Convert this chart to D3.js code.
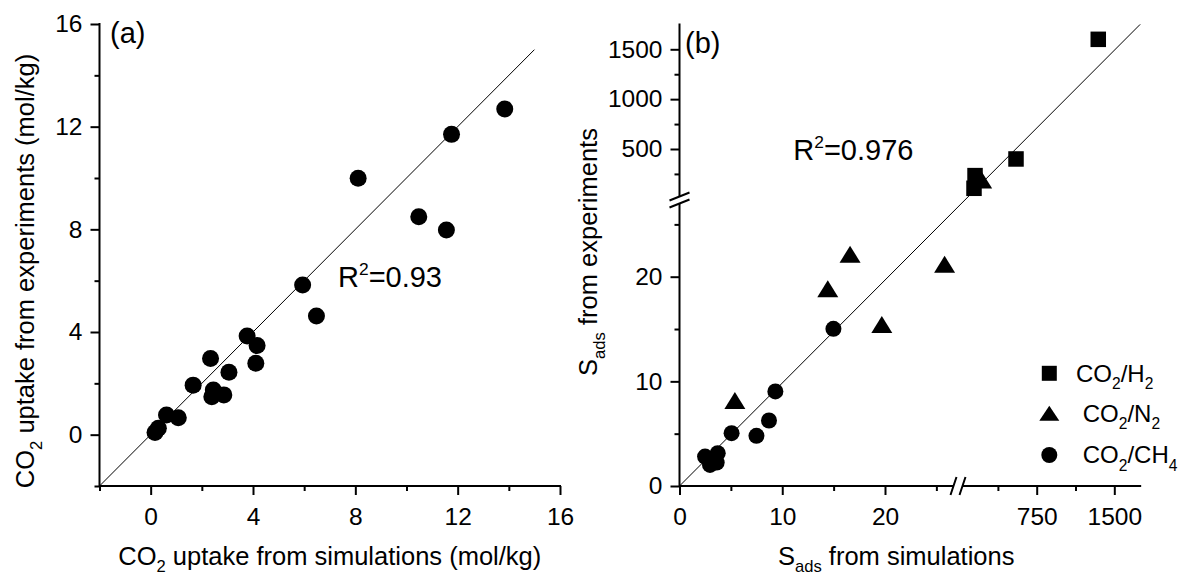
<!DOCTYPE html>
<html><head><meta charset="utf-8">
<script src="https://cdn.jsdelivr.net/npm/d3@7"></script>
<style>
body{margin:0;background:#fff;}
svg{display:block;font-family:"Liberation Sans",Arial,sans-serif;}
</style></head><body>
<svg id="chart" width="1183" height="577"></svg>
<script>
// ---------- Panel (a) data ----------
const aSim = [0.17,0.30,0.62,1.08,1.66,2.34,2.45,2.39,2.86,3.06,3.77,4.16,4.11,5.94,6.48,8.11,10.48,11.56,11.76,13.84];
const aExp = [0.08,0.25,0.77,0.66,1.93,2.97,1.74,1.48,1.55,2.43,3.84,3.47,2.78,5.83,4.62,9.99,8.49,7.97,11.70,12.69];
const aTicks = [0,4,8,12,16];
const aMinor = [-2,2,6,10,14];
const aDomain = [-2,16];
const aParity = [-2,15];
const aR2 = "0.93";

// ---------- Panel (b) data ----------
const seriesNames = ["CO2/H2","CO2/N2","CO2/CH4"];
const h2Sim = [154,144,550,1345];
const h2Exp = [233,106,400,1600];
const n2Sim = [5.39,14.43,16.6,19.69,25.8,218];
const n2Exp = [8.18,18.86,22.15,15.44,21.2,189];
const ch4Sim = [2.49,2.97,3.62,3.72,5.07,7.49,8.71,9.33,14.98];
const ch4Exp = [2.81,2.01,2.24,3.13,5.05,4.79,6.26,9.04,15.02];
const bLowTicks = [0,10,20];
const bLowMinor = [5,15,25];
const bHighXTicks = [750,1500];
const bHighXMinor = [375,1125];
const bHighYTicks = [500,1000,1500];
const bHighYMinor = [250,750,1250];
const bParity = [0,1750];
const bR2 = "0.976";

const svg = d3.select("#chart");
svg.append("rect").attr("width",1183).attr("height",577).attr("fill","#fff");

// rich text helper: parts = [[text, 'n'|'sub'|'sup'], ...]
function rich(sel, parts, fs, subShift){
  let shift = 0;
  const ss = subShift === undefined ? 0.32 : subShift;
  parts.forEach(([t,k])=>{
    const ts = sel.append("tspan").text(t);
    let target = 0, size = fs;
    if(k==="sub"){ target = ss*fs; size = 0.65*fs; }
    if(k==="sup"){ target = -0.42*fs; size = 0.6*fs; }
    ts.attr("font-size", size).attr("dy", target - shift);
    shift = target;
  });
  return sel;
}

function styleAxis(g, fs){
  g.select(".domain").remove();
  g.selectAll(".tick line").attr("stroke","#000").attr("stroke-width",2);
  g.selectAll(".tick text").attr("font-size",fs).attr("fill","#000")
    .attr("font-family","'Liberation Sans',Arial,sans-serif");
}

const TS = 24.5; // tick font
const TT = 25.5; // title font

// ================= Panel (a) =================
const xA = d3.scaleLinear().domain(aDomain).range([99.5,560]);
const yA = d3.scaleLinear().domain(aDomain).range([486,24]);

svg.append("line")
  .attr("x1",xA(aParity[0])).attr("y1",yA(aParity[0]))
  .attr("x2",xA(aParity[1])).attr("y2",yA(aParity[1]))
  .attr("stroke","#000").attr("stroke-width",1);

const gAx = svg.append("g").attr("transform",`translate(0,${yA(aDomain[0])})`);
gAx.call(d3.axisBottom(xA).tickValues(aTicks).tickSize(9).tickPadding(13).tickFormat(d3.format("d")));
styleAxis(gAx,TS);
const gAxm = svg.append("g").attr("transform",`translate(0,${yA(aDomain[0])})`);
gAxm.call(d3.axisBottom(xA).tickValues(aMinor).tickSize(5).tickFormat(""));
styleAxis(gAxm,TS);
const gAy = svg.append("g").attr("transform",`translate(${xA(aDomain[0])},0)`);
gAy.call(d3.axisLeft(yA).tickValues(aTicks).tickSize(9).tickPadding(8).tickFormat(d3.format("d")));
styleAxis(gAy,TS);
const gAym = svg.append("g").attr("transform",`translate(${xA(aDomain[0])},0)`);
gAym.call(d3.axisLeft(yA).tickValues(aMinor).tickSize(5).tickFormat(""));
styleAxis(gAym,TS);
svg.append("path")
  .attr("d",`M${xA(aDomain[0])},${yA(aDomain[1])}V${yA(aDomain[0])}H${xA(aDomain[1])}`)
  .attr("fill","none").attr("stroke","#000").attr("stroke-width",2).attr("stroke-linecap","square");

svg.append("g").selectAll("circle").data(aSim.map((s,i)=>[s,aExp[i]])).join("circle")
  .attr("cx",d=>xA(d[0])).attr("cy",d=>yA(d[1])).attr("r",8.5).attr("fill","#000");

svg.append("text").attr("x",110).attr("y",43).attr("font-size",29).text("(a)");
rich(svg.append("text").attr("x",338).attr("y",287).attr("font-size",29),
  [["R","n"],["2","sup"],["="+aR2,"n"]],29);
rich(svg.append("text").attr("x",(xA(aDomain[0])+xA(aDomain[1]))/2).attr("y",565)
  .attr("text-anchor","middle").attr("font-size",TT),
  [["CO","n"],["2","sub"],[" uptake from simulations (mol/kg)","n"]],TT,0.26);
rich(svg.append("text").attr("transform","translate(34,271) rotate(-90)")
  .attr("text-anchor","middle").attr("font-size",TT),
  [["CO","n"],["2","sub"],[" uptake from experiments (mol/kg)","n"]],TT);

// ================= Panel (b) =================
const xBLow = d3.scaleLinear().domain([0,20]).range([679.5,885]);
const xBHigh = d3.scaleLinear().domain([750,1500]).range([1036.7,1114.3]);
const yBLow = d3.scaleLinear().domain([0,20]).range([486,276.7]);
const yBHigh = d3.scaleLinear().domain([500,1500]).range([149,49.3]);
const xB = v => v < 50 ? xBLow(v) : xBHigh(v);
const yB = v => v < 50 ? yBLow(v) : yBHigh(v);
const x0 = xBLow(0), y0 = yBLow(0);
const xEnd = xBHigh(bParity[1]), yEnd = yBHigh(bParity[1]);
const xBreak = 958, yBreak = 200;

svg.append("line")
  .attr("x1",xB(bParity[0])).attr("y1",yB(bParity[0]))
  .attr("x2",xB(bParity[1])).attr("y2",yB(bParity[1]))
  .attr("stroke","#000").attr("stroke-width",1);

function axisB(gen, scale, ticks, size, fmt, tr){
  const g = svg.append("g").attr("transform",tr);
  g.call(gen(scale).tickValues(ticks).tickSize(size).tickPadding(gen===d3.axisBottom?13:8).tickFormat(fmt));
  styleAxis(g,TS);
}
const fmt = d3.format("d");
axisB(d3.axisBottom, xBLow, bLowTicks, 9, fmt, `translate(0,${y0})`);
axisB(d3.axisBottom, xBLow, bLowMinor, 5, "", `translate(0,${y0})`);
axisB(d3.axisBottom, xBHigh, bHighXTicks, 9, fmt, `translate(0,${y0})`);
axisB(d3.axisBottom, xBHigh, bHighXMinor, 5, "", `translate(0,${y0})`);
axisB(d3.axisLeft, yBLow, bLowTicks, 9, fmt, `translate(${x0},0)`);
axisB(d3.axisLeft, yBLow, bLowMinor, 5, "", `translate(${x0},0)`);
axisB(d3.axisLeft, yBHigh, bHighYTicks, 9, fmt, `translate(${x0},0)`);
axisB(d3.axisLeft, yBHigh, bHighYMinor, 5, "", `translate(${x0},0)`);
svg.append("path")
  .attr("d",`M${x0},${yEnd}V${y0}H${xEnd}`)
  .attr("fill","none").attr("stroke","#000").attr("stroke-width",2).attr("stroke-linecap","square");

function breakMark(cx, cy, vertical){
  const g = svg.append("g");
  const L = vertical ? 10 : 9, s = vertical ? 4 : 3, gap = vertical ? 3.5 : 4.5;
  let p1, p2;
  if(vertical){
    const a = [cx-L, cy+s], b = [cx+L, cy-s];
    p1 = [[a[0],a[1]-gap],[b[0],b[1]-gap]];
    p2 = [[a[0],a[1]+gap],[b[0],b[1]+gap]];
  } else {
    const a = [cx-s, cy+L], b = [cx+s, cy-L];
    p1 = [[a[0]-gap,a[1]],[b[0]-gap,b[1]]];
    p2 = [[a[0]+gap,a[1]],[b[0]+gap,b[1]]];
  }
  const poly = [p1[0],p1[1],p2[1],p2[0]];
  g.append("polygon").attr("points",poly.map(p=>p.join(",")).join(" ")).attr("fill","#fff");
  [p1,p2].forEach(p=>g.append("line").attr("x1",p[0][0]).attr("y1",p[0][1]).attr("x2",p[1][0]).attr("y2",p[1][1])
    .attr("stroke","#000").attr("stroke-width",2));
}
breakMark(xBreak, y0, false);
breakMark(x0, yBreak, true);

const sq = 15.5;
const triPath = (w,h)=>`M0,${-h/2}L${w/2},${h/2}L${-w/2},${h/2}Z`;
svg.append("g").selectAll("rect").data(h2Sim.map((s,i)=>[s,h2Exp[i]])).join("rect")
  .attr("x",d=>xB(d[0])-sq/2).attr("y",d=>yB(d[1])-sq/2).attr("width",sq).attr("height",sq).attr("fill","#000");
svg.append("g").selectAll("path").data(n2Sim.map((s,i)=>[s,n2Exp[i]])).join("path")
  .attr("d",triPath(21,17)).attr("transform",d=>`translate(${xB(d[0])},${yB(d[1])})`).attr("fill","#000");
svg.append("g").selectAll("circle").data(ch4Sim.map((s,i)=>[s,ch4Exp[i]])).join("circle")
  .attr("cx",d=>xB(d[0])).attr("cy",d=>yB(d[1])).attr("r",8).attr("fill","#000");

// legend
const LF = 24;
const lg = svg.append("g");
const legY = [373.3, 413.3, 455];
const legTX = [1076, 1082.7, 1082.7];
lg.append("rect").attr("x",1049.3-7.5).attr("y",legY[0]-7.5).attr("width",15).attr("height",15).attr("fill","#000");
lg.append("path").attr("d",triPath(20,15)).attr("transform",`translate(1049.3,${legY[1]})`).attr("fill","#000");
lg.append("circle").attr("cx",1049.3).attr("cy",legY[2]).attr("r",8).attr("fill","#000");
seriesNames.forEach((n,i)=>{
  const parts = [];
  const push = s => {
    const mm = s.match(/^(.*?)(\d+)$/);
    if(mm){ parts.push([mm[1],"n"]); parts.push([mm[2],"sub"]); } else parts.push([s,"n"]);
  };
  const [a,b] = n.split("/");
  push(a); parts.push(["/","n"]); push(b);
  rich(lg.append("text").attr("x",legTX[i]).attr("y",legY[i]+8.4).attr("font-size",LF), parts, LF);
});

svg.append("text").attr("x",685).attr("y",53).attr("font-size",29).text("(b)");
rich(svg.append("text").attr("x",793.3).attr("y",160).attr("font-size",29),
  [["R","n"],["2","sup"],["="+bR2,"n"]],29);
rich(svg.append("text").attr("x",778).attr("y",565).attr("font-size",TT),
  [["S","n"],["ads","sub"],[" from simulations","n"]],TT,0.26);
rich(svg.append("text").attr("transform","translate(597,252) rotate(-90)")
  .attr("text-anchor","middle").attr("font-size",TT),
  [["S","n"],["ads","sub"],[" from experiments","n"]],TT);
</script>
</body></html>
